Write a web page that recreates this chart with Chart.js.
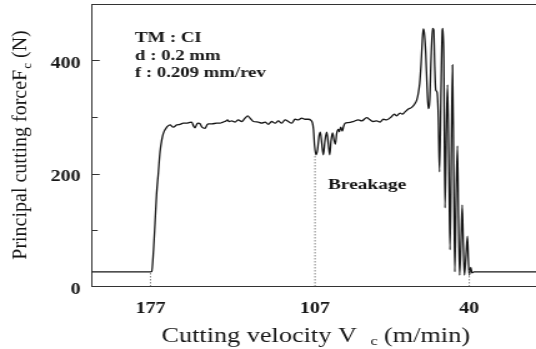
<!DOCTYPE html>
<html>
<head>
<meta charset="utf-8">
<script src="https://cdn.jsdelivr.net/npm/chart.js@4/dist/chart.umd.min.js"></script>
<style>
  html, body { margin: 0; padding: 0; background: #fff; }
  #c { display: block; width: 536px; height: 349px; }
</style>
</head>
<body>
<canvas id="c" width="429" height="349" style="width:536px;height:349px;display:block"></canvas>
<script>
// ---- data (time axis in arbitrary units, force in N) ----
const timeS = [0, 58.8, 60, 61.8, 63.3, 64.8, 66.6, 68.3, 70, 71.6,
  75, 78.3, 81.6, 85, 88.3, 91.6, 95, 97.3, 100, 101.8,
  103.3, 105.3, 106.6, 108.3, 110.3, 113.3, 115.3, 116.8, 120.3, 125,
  128.3, 131.3, 134.3, 135.8, 137.3, 140, 143.3, 146.6, 150, 153.3,
  156, 158.3, 161.6, 166.6, 170, 173.3, 176.6, 180, 183.3, 186.6,
  190, 193.3, 196.6, 200, 203.3, 206.6, 210, 213.3, 216.6, 219.3,
  220.8, 221.8, 222.8, 224.3, 225.8, 227.3, 228.6, 230, 231.6, 233.3,
  235, 236.6, 238, 239.3, 240.8, 242.3, 243.6, 245, 246.6, 247.6,
  249, 250.6, 251.8, 253.3, 256.6, 261.6, 266.6, 270, 275, 278.3,
  281.6, 285, 288.3, 291.6, 295, 300, 302.6, 305, 308.3, 310.6,
  313.3, 316.6, 320, 323.3, 325, 326.6, 328, 329.3, 330.6, 331.6,
  332.5, 334, 335.3, 336.6, 338, 339.3, 340.8, 342, 343, 344,
  345.3, 346.6, 347.8, 349.3, 350.6, 351.2, 352.1, 353.3, 354.6, 355.8,
  357.1, 358.3, 359.6, 360.8, 362, 363.1, 364.3, 365.7, 366.8, 367.9,
  369.3, 370.5, 371.6, 372.7, 374.3, 375.7, 376.6, 377.5, 379, 380.3,
  382.3, 444.3];
const forceN = [26, 26, 26.5, 65, 112, 162, 201, 238, 259, 271,
  282, 286, 282, 286, 287, 289, 289, 290, 291, 284,
  281, 288, 289, 288, 282, 280, 286, 288, 288, 289,
  289, 291, 293, 295, 292, 293, 291, 295, 292, 298,
  302, 298, 292, 291, 289, 291, 287, 292, 289, 293,
  289, 295, 292, 289, 296, 295, 298, 296, 296, 294,
  289, 277, 250, 233, 242, 266, 273, 254, 233, 259,
  273, 252, 233, 258, 272, 259, 252, 271, 278, 274,
  282, 275, 283, 289, 290, 292, 295, 293, 299, 295,
  292, 293, 291, 296, 295, 301, 305, 302, 307, 305,
  309, 314, 317, 324, 330, 342, 360, 392, 436, 456,
  450, 413, 354, 315, 330, 401, 457, 454, 389, 348,
  344, 300, 203, 348, 454, 457, 401, 139, 277, 357,
  224, 65, 242, 392, 206, 26, 153, 249, 118, 20,
  82, 144, 73, 20, 56, 89, 50, 20, 34, 24,
  26, 26];

// x-axis tick positions (on time axis) and their velocity labels
const tickPos = [58.8, 223.3, 377.6];
const tickLabels = ['177', '107', '40'];
// dotted marker lines: top value at each tick position
const markerTop = [26, 233, 32];
// y axis
const yTicks = [0, 200, 400];
const yMinorTicks = [100, 300];
const yMajorMarks = [200, 400];

const infoLines = ['TM : CI', 'd : 0.2 mm', 'f : 0.209 mm/rev'];
const breakLabel = 'Breakage';
const xTitle = ['Cutting velocity V', 'c', '(m/min)'];
const yTitle = ['Principal cutting forceF', 'c', ' (N)'];

// ---- rendering ----
const SX = 536 / 429; // horizontal stretch of the canvas
const SERIF = '"Liberation Serif", "Times New Roman", serif';
const INK = '#161616';

const curve = timeS.map((t, i) => ({ x: t, y: forceN[i] }));
const markerSets = tickPos.map((t, i) => ({
  data: [{ x: t, y: 0 }, { x: t, y: markerTop[i] }],
  borderColor: '#666',
  borderWidth: 0.8,
  borderDash: [1.5, 1.5],
  pointRadius: 0,
  tension: 0
}));

const decor = {
  id: 'decor',
  afterDraw(chart) {
    const { ctx, chartArea: a, scales } = chart;
    const y = scales.y;
    ctx.save();
    // top frame line
    ctx.strokeStyle = '#333';
    ctx.lineWidth = 1;
    ctx.beginPath();
    ctx.moveTo(a.left, a.top + 0.5);
    ctx.lineTo(a.right, a.top + 0.5);
    ctx.stroke();
    // inward y tick marks
    yMajorMarks.forEach(v => {
      const p = Math.round(y.getPixelForValue(v)) + 0.5;
      ctx.beginPath(); ctx.moveTo(a.left, p); ctx.lineTo(a.left + 6.4, p); ctx.stroke();
    });
    yMinorTicks.forEach(v => {
      const p = Math.round(y.getPixelForValue(v)) + 0.5;
      ctx.beginPath(); ctx.moveTo(a.left, p); ctx.lineTo(a.left + 4.8, p); ctx.stroke();
    });

    ctx.fillStyle = INK;
    ctx.textAlign = 'left';
    ctx.textBaseline = 'alphabetic';
    // condition annotation
    ctx.font = 'bold 15px ' + SERIF;
    infoLines.forEach((s, i) => ctx.fillText(s, 135 / SX, 42 + i * 17.5));
    ctx.font = 'bold 15.5px ' + SERIF;
    ctx.fillText(breakLabel, 328 / SX, 189);

    // x title with subscript
    ctx.font = '21px ' + SERIF;
    let x0 = 161.5 / SX;
    ctx.fillText(xTitle[0], x0, 342);
    const w1 = ctx.measureText(xTitle[0]).width;
    ctx.font = '13px ' + SERIF;
    const xs = x0 + w1 + 11;
    ctx.fillText(xTitle[1], xs, 345);
    const ws = ctx.measureText(xTitle[1]).width;
    ctx.font = '21px ' + SERIF;
    ctx.fillText(xTitle[2], xs + ws + 5, 342);

    // y title (rotated, not stretched)
    ctx.save();
    ctx.translate(26.7 / SX, 145);
    ctx.scale(1 / SX, 1);
    ctx.rotate(-Math.PI / 2);
    ctx.font = '20px ' + SERIF;
    const a1 = ctx.measureText(yTitle[0]).width;
    const a3 = ctx.measureText(yTitle[2]).width;
    ctx.font = '13px ' + SERIF;
    const a2 = ctx.measureText(yTitle[1]).width;
    const total = a1 + 1 + a2 + a3;
    let sx0 = -total / 2;
    ctx.font = '20px ' + SERIF;
    ctx.fillText(yTitle[0], sx0, 0);
    ctx.font = '13px ' + SERIF;
    ctx.fillText(yTitle[1], sx0 + a1 + 1, 4);
    ctx.font = '20px ' + SERIF;
    ctx.fillText(yTitle[2], sx0 + a1 + 1 + a2, 0);
    ctx.restore();

    ctx.restore();
  }
};

new Chart(document.getElementById('c'), {
  type: 'line',
  data: {
    datasets: [
      ...markerSets,
      {
        data: curve,
        borderColor: INK,
        borderWidth: 1.3,
        pointRadius: 0,
        cubicInterpolationMode: 'monotone',
        fill: false
      }
    ]
  },
  options: {
    responsive: false,
    devicePixelRatio: 1,
    animation: false,
    layout: { padding: { top: 4, right: 0, bottom: 0, left: 0 } },
    plugins: { legend: { display: false }, tooltip: { enabled: false } },
    scales: {
      x: {
        type: 'linear',
        min: 0,
        max: 444.3,
        grid: { display: false, drawTicks: false },
        border: { display: true, color: '#333', width: 1 },
        ticks: {
          autoSkip: false,
          maxRotation: 0,
          padding: 13,
          color: INK,
          font: { family: SERIF, size: 16, weight: 'bold' },
          callback: (v, i) => tickLabels[i]
        },
        afterBuildTicks: s => { s.ticks = tickPos.map(v => ({ value: v })); },
        afterFit: s => { s.height = 62.5; s.paddingLeft = 0; s.paddingRight = 0; }
      },
      y: {
        min: 0,
        max: 500,
        grid: { display: false, drawTicks: false },
        border: { display: true, color: '#333', width: 1 },
        ticks: {
          padding: 9,
          labelOffset: 3,
          color: INK,
          font: { family: SERIF, size: 16, weight: 'bold' }
        },
        afterBuildTicks: s => { s.ticks = yTicks.map(v => ({ value: v })); },
        afterFit: s => { s.width = 73.4; s.paddingTop = 0; s.paddingBottom = 0; }
      }
    }
  },
  plugins: [decor]
});
</script>
</body>
</html>
